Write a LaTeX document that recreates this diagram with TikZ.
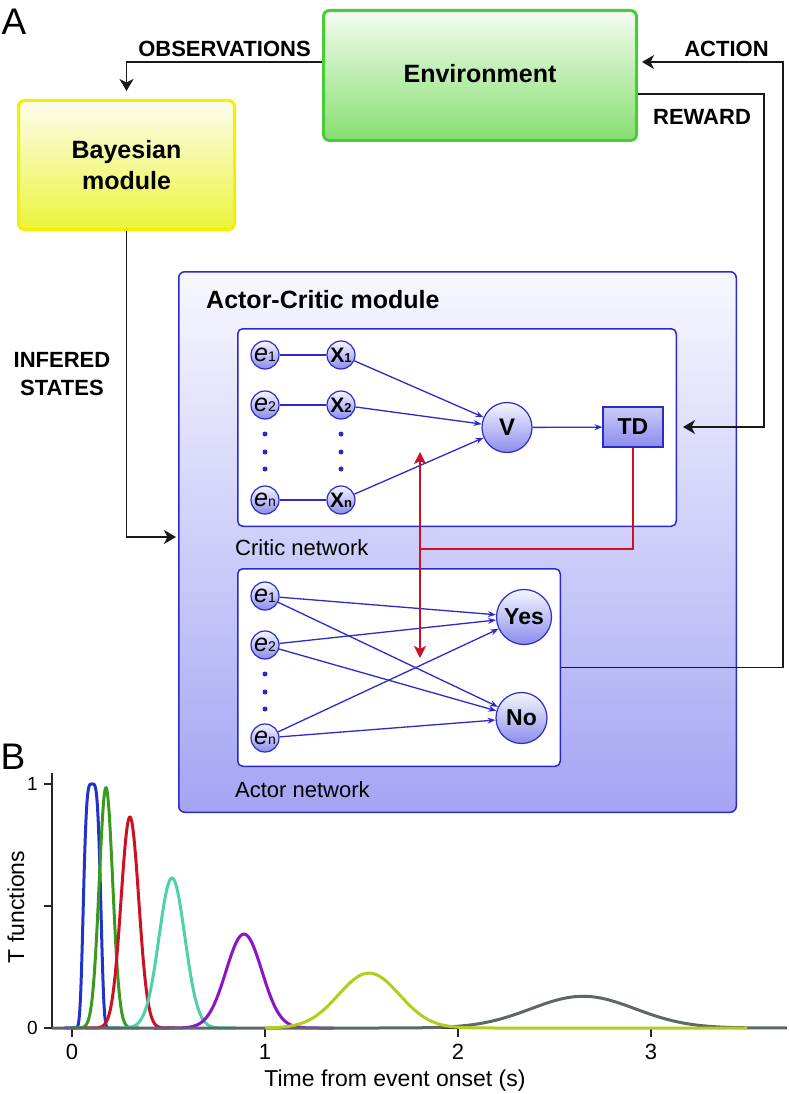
\documentclass[tikz,border=0pt]{standalone}
\usepackage{fontspec}
\setmainfont{Liberation Sans}
\usetikzlibrary{arrows.meta,calc}
\definecolor{bluel}{HTML}{2B2BC8}
\definecolor{nodeB}{HTML}{8C8CEE}
\definecolor{nodeT}{HTML}{F6F6FF}
\definecolor{redl}{HTML}{CC1126}
\definecolor{envB}{HTML}{4CCB3A}
\definecolor{envF}{HTML}{86DE6E}
\definecolor{envT}{HTML}{F4FCF2}
\definecolor{bayB}{HTML}{F2F200}
\definecolor{bayF}{HTML}{ECF43A}
\definecolor{bayT}{HTML}{FDFDEE}
\definecolor{acB}{HTML}{2A2ACC}
\definecolor{acF}{HTML}{A4A4F4}
\definecolor{acT}{HTML}{F8F8FF}
\definecolor{cBlue}{HTML}{2233CC}
\definecolor{cGreen}{HTML}{3A9A1E}
\definecolor{cRed}{HTML}{CC1122}
\definecolor{cTeal}{HTML}{4FD1A8}
\definecolor{cPurple}{HTML}{8A14C8}
\definecolor{cYellow}{HTML}{B4CC1A}
\definecolor{cGray}{HTML}{5D6769}
\newcommand\myE[1]{{\fontsize{25}{25}\selectfont\itshape e}{\fontsize{14}{14}\selectfont #1}}
\newcommand\myX[1]{{\fontsize{21}{21}\selectfont\bfseries X}{\fontsize{13}{13}\selectfont\bfseries #1}}
\begin{document}
\begin{tikzpicture}[x=1pt,y=-1pt,
  declare function={g(\u,\m,\s,\a)=\a*exp(max(-9,-0.5*((\u-\m)/\s)*((\u-\m)/\s)));
                    h(\u,\m,\s)=exp(max(-9,-((\u-\m)/\s)*((\u-\m)/\s)*((\u-\m)/\s)*((\u-\m)/\s)));},
  bigbox/.style={draw, rounded corners=6pt, inner sep=0pt, align=center, line width=3pt,
     font=\fontsize{25}{31}\selectfont\bfseries},
  envbox/.style={bigbox, draw=envB, top color=envT, bottom color=envF, minimum width=313pt, minimum height=130pt},
  baybox/.style={bigbox, draw=bayB, top color=bayT, bottom color=bayF, minimum width=216pt, minimum height=129pt},
  acbox/.style={draw=acB, line width=1.5pt, rounded corners=6pt, top color=acT, bottom color=acF, minimum width=557.5pt, minimum height=540.5pt, inner sep=0pt},
  netbox/.style={draw=acB, line width=1.5pt, rounded corners=5pt, fill=white, minimum width=438.5pt, minimum height=197.5pt, inner sep=0pt},
  nnode/.style={circle, draw=bluel, line width=1.2pt, top color=nodeT, bottom color=nodeB, inner sep=0pt},
  enode/.style={nnode, minimum size=28pt},
  bignode/.style={nnode, font=\fontsize{23}{23}\selectfont\bfseries},
  tdbox/.style={draw=bluel, line width=1.2pt, top color=nodeT!60!nodeB, bottom color=nodeB, minimum width=60pt, minimum height=40pt, inner sep=0pt, font=\fontsize{23}{23}\selectfont\bfseries},
  capl/.style={font=\fontsize{22}{28}\selectfont\bfseries, inner sep=0pt},
  netl/.style={font=\fontsize{22}{22}\selectfont, inner sep=0pt, anchor=base west},
  blk/.style={draw=black!90, line width=1.5pt, -{Stealth[length=12pt,width=14pt,inset=3.5pt]}},
  blline/.style={draw=bluel, line width=1.3pt},
  blarr/.style={blline, -{Stealth[length=8pt,width=6pt]}},
  redline/.style={draw=redl, line width=1.5pt},
  dotb/.style={fill=bluel, circle, inner sep=0pt, minimum size=5pt},
  axisl/.style={draw=black!85, line width=1.6pt},
  crv/.style={line width=3pt, line join=round},
  ticklab/.style={font=\fontsize{22}{22}\selectfont, inner sep=0pt},
  ]
\useasboundingbox (0,0) rectangle (789,1094);

% panel labels
\node[font=\fontsize{37}{37}\selectfont, inner sep=0pt] (labA) at (14,21.5) {A};
\node[font=\fontsize{37}{37}\selectfont, inner sep=0pt] (labB) at (13,757) {B};

% main boxes
\node[envbox] (env) at (480,75.5) {\raisebox{4pt}{Environment}};
\node[baybox] (bayes) at (126.5,165) {Bayesian\\module};
\node[acbox] (ac) at (457.5,542) {};
\node[netbox] (critic) at (457,427.5) {};
\node[netbox, minimum width=322.5pt] (actor) at (399,667.5) {};

% captions
\node[capl, anchor=base] (obs) at (224.5,57) {OBSERVATIONS};
\node[capl, anchor=base] (act) at (726.5,57) {ACTION};
\node[capl, anchor=base] (rew) at (702,125) {REWARD};
\node[capl, align=center] (inf) at (62,374) {INFERED\\STATES};
\node[font=\fontsize{25}{25}\selectfont\bfseries, inner sep=0pt, anchor=base west] (actitle) at (206,308) {Actor-Critic module};
\node[netl] (critlab) at (235,555) {Critic network};
\node[netl] (actlab) at (235,797) {Actor network};

% critic network
\node[enode] (ce1) at (265,355) {\myE{1}};
\node[enode] (ce2) at (265,405) {\myE{2}};
\node[enode] (cen) at (265,500) {\myE{n}};
\node[enode] (cx1) at (341,355) {\myX{1}};
\node[enode] (cx2) at (341,405) {\myX{2}};
\node[enode] (cxn) at (341,500) {\myX{n}};
\foreach \yy [count=\i] in {434,452,469}{
  \node[dotb] (cde\i) at (265,\yy) {};
  \node[dotb] (cdx\i) at (341,\yy) {};
}
\node[bignode, minimum size=50pt, font=\fontsize{24}{24}\selectfont\bfseries] (V) at (507,427.5) {V};
\node[tdbox] (td) at (633,427) {TD};

\draw[blline] (ce1) -- (cx1);
\draw[blline] (ce2) -- (cx2);
\draw[blline] (cen) -- (cxn);
\draw[blarr] (cx1) -- (V);
\draw[blarr] (cx2) -- (V);
\draw[blarr] (cxn) -- (V);
\draw[blarr] (V) -- (td);

% actor network
\node[enode] (ae1) at (265,596) {\myE{1}};
\node[enode] (ae2) at (265,645) {\myE{2}};
\node[enode] (aen) at (265,738) {\myE{n}};
\foreach \yy [count=\i] in {674,692,709}{
  \node[dotb] (ade\i) at (265,\yy) {};
}
\node[bignode, minimum size=55pt] (yes) at (524,617) {Yes};
\node[bignode, minimum size=51pt] (no) at (521.5,718) {No};
\foreach \s in {ae1,ae2,aen}{
  \draw[blarr] (\s) -- (yes);
  \draw[blarr] (\s) -- (no);
}

% red TD signal
\coordinate (redJ) at (420,549);
\coordinate (redTop) at (420,452);
\coordinate (redBot) at (420,658);
\draw[redline] (td.south) |- (redJ);
\draw[redline, {Stealth[length=12pt,width=12pt,inset=3pt]}-{Stealth[length=12pt,width=12pt,inset=3pt]}] (redTop) -- (redBot);

% black connectors
\coordinate (obsY) at (0,62);
\coordinate (rewY) at (0,94);
\coordinate (actX) at (783,0);
\coordinate (rewX) at (764,0);
\coordinate (infY) at (0,537);
\draw[blk, shorten >=8pt] (env.west |- obsY) -| (bayes.north);
\draw[blk, shorten >=4pt] (actor.east) -| (actX |- obsY) -- (env.east |- obsY);
\draw[blk, shorten >=6pt] (env.east |- rewY) -| (rewX |- td.east) -- (critic.east |- td.east);
\draw[blk, shorten >=2pt] (bayes.south) |- (ac.west |- infY);

% panel B plot
\begin{scope}[shift={(72,1028)}, x=193pt, y=244pt]
  \draw[axisl] (-0.104,1.045) -- (-0.104,0) -- (3.705,0);
  \foreach \v in {0,0.5,1} \draw[axisl] (-0.104,\v) -- (-0.145,\v);
  \foreach \t in {0,1,2,3} \draw[axisl] (\t,0) -- (\t,-0.035);
  \draw[crv, cBlue] plot[domain=-0.04:0.25, samples=140] (\x,{h(\x,0.104,0.05)});
  \draw[crv, cGreen] plot[domain=0.001:0.351, samples=120] (\x,{g(\x,0.176,0.035,0.985)});
  \draw[crv, cRed] plot[domain=0.07:0.53, samples=120] (\x,{g(\x,0.30,0.046,0.865)});
  \draw[crv, cTeal] plot[domain=0.183:0.853, samples=120] (\x,{g(\x,0.518,0.067,0.615)});
  \draw[crv, cPurple] plot[domain=0.426:1.356, samples=120] (\x,{g(\x,0.891,0.093,0.385)});
  \draw[crv, cGray] plot[domain=-0.104:3.705, samples=220] (\x,{g(\x,2.648,0.27,0.13)});
  \draw[crv, cYellow] plot[domain=1.0:3.5, samples=160] (\x,{g(\x,1.539,0.158,0.225)});
\end{scope}
\node[ticklab] (tx0) at (72,1052) {0};
\node[ticklab] (tx1) at (265,1052) {1};
\node[ticklab] (tx2) at (458,1052) {2};
\node[ticklab] (tx3) at (651,1052) {3};
\node[font=\fontsize{19}{19}\selectfont, inner sep=0pt, anchor=east] (ty1) at (38,784) {1};
\node[font=\fontsize{19}{19}\selectfont, inner sep=0pt, anchor=east] (ty0) at (38,1028) {0};
\node[font=\fontsize{23}{23}\selectfont, inner sep=0pt, rotate=90] (ylab) at (16,907) {T functions};
\node[font=\fontsize{23}{23}\selectfont, inner sep=0pt] (xlab) at (395,1081) {Time from event onset (s)};
\end{tikzpicture}
\end{document}
